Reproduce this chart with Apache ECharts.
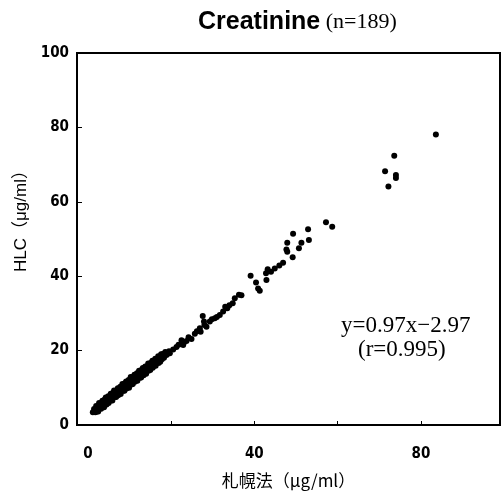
<!DOCTYPE html>
<html>
<head>
<meta charset="utf-8">
<script src="https://cdn.jsdelivr.net/npm/echarts@6/dist/echarts.min.js"></script>
<style>
  html, body { margin: 0; padding: 0; background: #fff; }
  #chart { width: 503px; height: 495px; }
</style>
</head>
<body>
<div id="chart"></div>
<script>
// 札幌法 (x) vs HLC (y)
const xLow = [1.2, 1.5, 1.8, 2.0, 2.2, 2.4, 2.5, 2.7, 2.9, 3.0, 3.2, 3.3, 3.5, 3.6, 3.8, 3.9, 4.0, 4.2, 4.3, 4.5,
  4.6, 4.8, 4.9, 5.0, 5.2, 5.3, 5.5, 5.6, 5.8, 5.9, 6.0, 6.2, 6.3, 6.5, 6.6, 6.8, 6.9, 7.0, 7.2, 7.3,
  7.5, 7.6, 7.8, 7.9, 8.0, 8.2, 8.3, 8.5, 8.6, 8.8, 8.9, 9.0, 9.2, 9.3, 9.5, 9.6, 9.8, 9.9, 10.0, 10.2,
  10.3, 10.5, 10.6, 10.8, 10.9, 11.0, 11.2, 11.3, 11.5, 11.6, 11.8, 11.9, 12.0, 12.2, 12.3, 12.5, 12.6, 12.8, 12.9, 13.0,
  13.2, 13.4, 13.5, 13.7, 13.8, 14.0, 14.1, 14.3, 14.5, 14.6, 14.8, 15.0, 15.1, 15.3, 15.5, 15.6, 15.8, 16.0, 16.2, 16.3,
  16.5, 16.7, 16.9, 17.0, 17.2, 17.4, 17.6, 17.8, 18.0, 18.3, 18.6, 19.0];
const yLow = [3.4, 4.3, 3.4, 5.1, 3.6, 4.8, 3.6, 5.9, 4.6, 5.7, 4.4, 5.3, 6.5, 4.9, 6.2, 4.8, 6.8, 5.8, 7.4, 5.5,
  6.7, 6.1, 7.7, 5.9, 7.5, 6.7, 8.4, 6.6, 7.9, 6.6, 8.6, 7.7, 9.3, 7.5, 8.8, 7.5, 9.3, 8.2, 9.9, 8.0,
  9.3, 8.6, 10.3, 8.3, 10.1, 9.4, 11.0, 9.2, 10.5, 9.2, 11.2, 9.9, 11.7, 9.8, 11.2, 10.3, 12.1, 10.0, 12.0, 11.3,
  12.9, 10.9, 12.2, 11.0, 13.0, 11.8, 13.5, 11.6, 12.8, 12.0, 13.9, 11.9, 13.7, 13.0, 14.6, 12.7, 14.0, 12.8, 14.8, 13.5,
  15.3, 13.4, 14.7, 14.0, 15.7, 13.8, 15.6, 14.8, 16.5, 14.6, 16.0, 14.8, 16.7, 15.6, 17.3, 15.4, 16.7, 16.0, 17.8, 15.9,
  17.7, 17.0, 18.5, 16.7, 18.1, 17.0, 19.0, 17.7, 19.1, 18.1, 19.6, 19.0];

const xMid = [17.3, 18.1, 18.9, 19.5, 19.7, 20.5, 21.3, 21.8, 22.5, 22.9, 23.0, 23.7, 24.2, 24.9, 25.7, 26.2, 26.9, 27.1, 27.6, 27.9,
  28.0, 28.5, 29.3, 29.8, 30.5, 31.0, 31.7, 32.5, 33.0, 33.5, 34.0, 34.8, 35.3, 36.3];
const yMid = [17.7, 18.2, 18.8, 19.8, 19.3, 20.3, 21.0, 21.6, 22.8, 21.5, 22.0, 22.6, 23.6, 23.1, 24.5, 25.2, 26.0, 25.1, 29.3, 27.8,
  26.9, 26.4, 27.8, 28.4, 28.7, 29.0, 29.6, 30.5, 31.8, 31.4, 32.2, 32.7, 34.1, 35.0];

const xHigh = [36.9, 39.1, 40.4, 40.9, 41.3, 42.8, 42.9, 43.2, 44.0, 44.9, 46.0, 46.9, 47.7, 47.9, 47.9, 49.2, 49.3, 50.7, 51.3, 52.9,
  53.1, 57.2, 58.7, 72.2, 71.4, 74.0, 74.0, 73.6, 83.6];
const yHigh = [34.9, 40.1, 38.3, 36.7, 36.1, 40.8, 39.0, 41.9, 41.2, 42.1, 42.9, 43.6, 47.2, 46.6, 49.0, 45.1, 51.4, 47.5, 49.0, 52.6,
  49.7, 54.5, 53.3, 64.1, 68.2, 67.2, 66.4, 72.4, 78.1];

const xLabels = [0, 40, 80];
const xTicks = [20, 40, 60, 80];

const sapporo = xLow.concat(xMid, xHigh);
const hlc = yLow.concat(yMid, yHigh);
const points = sapporo.map((x, i) => [x, hlc[i]]);

const chart = echarts.init(document.getElementById('chart'));
chart.setOption({
  animation: false,
  backgroundColor: '#fff',
  title: {
    text: '{a|Creatinine}{b| (n=189)}',
    left: 193,
    top: 5,
    textStyle: {
      rich: {
        a: { fontFamily: 'Liberation Sans', fontWeight: 'bold', fontSize: 25, color: '#000' },
        b: { fontFamily: 'Liberation Serif', fontWeight: 'normal', fontSize: 22, color: '#000' }
      }
    }
  },
  grid: {
    left: 77, right: 3, top: 53, bottom: 70,
    show: true, borderColor: '#000', borderWidth: 2
  },
  xAxis: {
    type: 'value',
    min: -2.6,
    max: 99,
    name: '札幌法（μg/ml）',
    nameLocation: 'middle',
    nameGap: 47,
    nameTextStyle: { fontFamily: 'Noto Sans CJK JP', fontSize: 17, color: '#000' },
    axisLine: { show: true, onZero: false, lineStyle: { color: '#000', width: 2 } },
    axisTick: { show: true, inside: true, length: 4, customValues: xTicks, lineStyle: { color: '#000' } },
    axisLabel: {
      customValues: xLabels,
      margin: 22,
      fontFamily: 'Liberation Sans Narrow, DejaVu Sans Condensed',
      fontWeight: 'bold',
      fontSize: 15,
      color: '#000'
    },
    splitLine: { show: false }
  },
  yAxis: {
    type: 'value',
    min: 0,
    max: 100,
    interval: 20,
    name: 'HLC（μg/ml）',
    nameLocation: 'middle',
    nameGap: 44,
    nameTextStyle: { fontFamily: 'Liberation Sans, Noto Sans CJK JP', fontSize: 17, color: '#000', padding: [0, 0, 0, 44] },
    axisLine: { show: true, onZero: false, lineStyle: { color: '#000', width: 2 } },
    axisTick: { show: true, inside: true, length: 5, lineStyle: { color: '#000' } },
    axisLabel: {
      margin: 8,
      fontFamily: 'Liberation Sans Narrow, DejaVu Sans Condensed',
      fontWeight: 'bold',
      fontSize: 15,
      color: '#000'
    },
    splitLine: { show: false }
  },
  graphic: [
    { type: 'text', left: 341, top: 314,
      style: { text: 'y=0.97x−2.97', font: '23px "Liberation Serif"', fill: '#000' } },
    { type: 'text', left: 358, top: 338,
      style: { text: '(r=0.995)', font: '23px "Liberation Serif"', fill: '#000' } }
  ],
  series: [{
    type: 'scatter',
    data: points,
    symbol: 'circle',
    symbolSize: 6,
    itemStyle: { color: '#000', opacity: 1 }
  }]
});
</script>
</body>
</html>
